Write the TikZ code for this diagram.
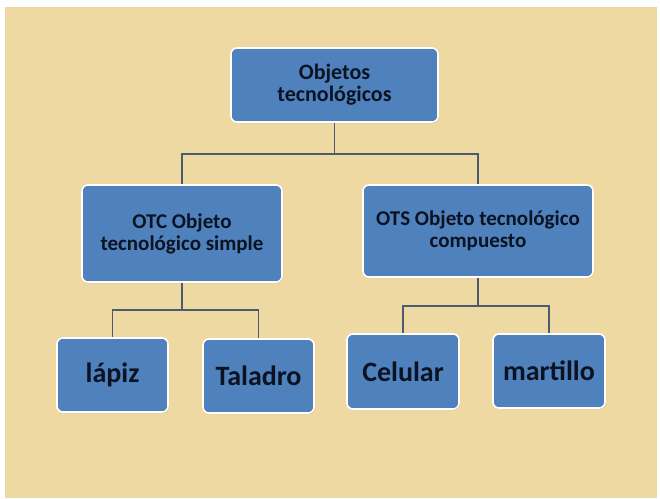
\documentclass[tikz,border=0pt]{standalone}
\usepackage{fontspec}
\setmainfont{Carlito}
\usetikzlibrary{shadows}
\definecolor{paper}{HTML}{EFD9A3}
\definecolor{boxblue}{HTML}{4F81BD}
\definecolor{ink}{HTML}{0B1322}
\definecolor{linkc}{HTML}{4C5B70}
\tikzset{
  box/.style={draw=white, line width=1.6pt, fill=boxblue, rounded corners=6pt,
    text=ink, font=\bfseries, align=center, inner sep=0pt,
    drop shadow={shadow xshift=1pt, shadow yshift=-1pt, opacity=0.25}},
  midtext/.style={font=\bfseries\fontsize{21}{22}\selectfont},
  leaftext/.style={font=\bfseries\fontsize{28}{30}\selectfont},
  link/.style={draw=linkc, line width=1.6pt}
}
\begin{document}
\begin{tikzpicture}[x=1pt,y=-1pt]
\useasboundingbox (0,0) rectangle (660,498);
\fill[white] (0,0) rectangle (660,498);
\fill[paper] (5,7) rectangle (657,498);
% nodes
\node[box, minimum width=207pt, minimum height=74pt, font=\bfseries\fontsize{22}{22}\selectfont] (root) at (334.5,85) {Objetos\\tecnológicos};
\node[box, minimum width=200pt, minimum height=97pt, midtext] (otc) at (182,233.5) {OTC Objeto\\tecnológico simple};
\node[box, minimum width=230pt, minimum height=92pt, midtext] (ots) at (478,231) {OTS Objeto tecnológico\\compuesto};
\node[box, minimum width=111pt, minimum height=74pt, leaftext] (lapiz) at (112.5,375) {lápiz};
\node[box, minimum width=111pt, minimum height=74pt, leaftext] (taladro) at (258.5,376) {Taladro};
\node[box, minimum width=112pt, minimum height=75pt, leaftext] (celular) at (403,371.5) {Celular};
\node[box, minimum width=112pt, minimum height=74pt, leaftext] (martillo) at (549,371) {martillo};
% connectors
\coordinate (j1) at (334.5,154);
\coordinate (j2) at (182,310);
\coordinate (j3) at (478,306);
\draw[link] (root.south) -- (j1);
\draw[link] (j1) -| (otc.north);
\draw[link] (j1) -| (ots.north);
\draw[link] (otc.south) -- (j2);
\draw[link] (j2) -| (lapiz.north);
\draw[link] (j2) -| (taladro.north);
\draw[link] (ots.south) -- (j3);
\draw[link] (j3) -| (celular.north);
\draw[link] (j3) -| (martillo.north);
\end{tikzpicture}
\end{document}
